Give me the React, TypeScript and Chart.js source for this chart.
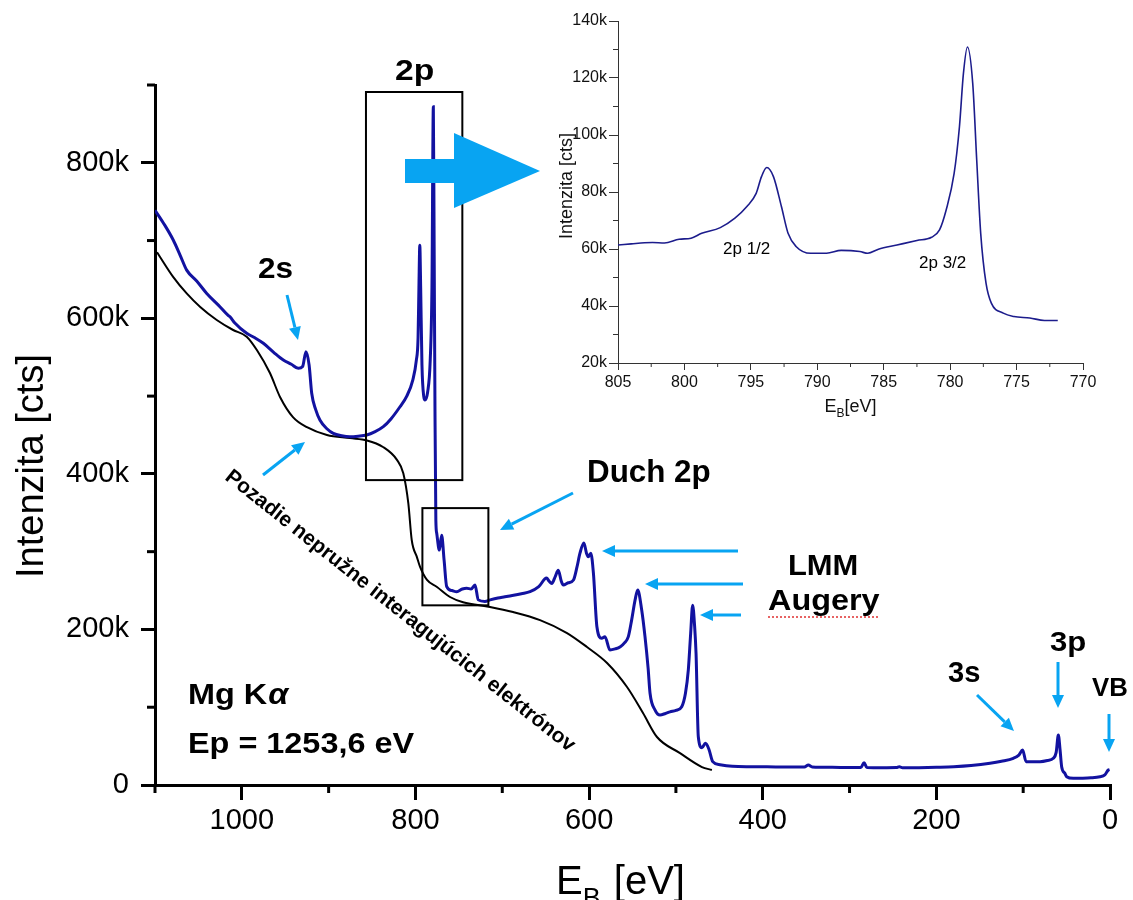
import React, { useEffect, useRef } from 'react';
import { Chart, registerables } from 'chart.js';

Chart.register(...registerables);

const FONT = 'Arial, "Liberation Sans", Helvetica, sans-serif';

// ---------- Main survey spectrum (E_B in eV, counts) ----------
const mainEnergy = [
  1100, 1090, 1079, 1071, 1063.5, 1052, 1040.4, 1027, 1016, 1013.6, 1008, 994.4, 985, 975.2, 963, 952.2,
  943, 934.9, 930, 926.1, 922.5, 919.5, 915, 909.9, 902, 894.6, 885, 875.4, 866, 856.2, 847, 837,
  828, 818, 810, 803, 799, 797, 796, 795, 794, 792.5, 790.5, 789, 786, 783, 781, 779.4,
  778.5, 777.5, 776.5, 775.5, 772.5, 769.8, 767, 764, 758, 752.5, 746, 741, 736, 731.4,
  727.6, 720, 714, 705, 697, 687, 678, 668, 658, 649, 646, 643, 639, 635.5, 632, 629.7,
  624, 618, 614, 610.5, 606, 603, 601, 598, 595, 591, 585.5, 581.7, 576, 570, 564, 559,
  554.8, 551, 547, 544, 539.4, 535.6, 532, 529.8, 524, 518.3, 512, 506.8, 500, 493.3, 489, 485.7,
  483, 480.7, 478.5, 476.8, 474.2, 470, 466, 462, 457.6, 449.2, 435, 415, 395, 372, 352,
  347.5, 343, 320, 300, 287, 283.3, 280, 262, 246, 242.7, 239, 220, 200, 180, 160, 138.2,
  125, 111.4, 105, 100.6, 96.7, 90, 80.6, 72, 65.3, 62, 59.5, 57.5, 55.7, 52, 49.9, 42.3,
  32, 22, 11.5, 6, 2, 0.5,
];
const mainCounts = [
  739000, 722000, 700700, 681000, 662000, 648000, 632000, 617000, 604000, 602000, 594000, 580700, 575000, 567900, 556000, 546400,
  541000, 535700, 538000, 557000, 540000, 503600, 483000, 469000, 458000, 452000, 449000, 447800, 448500, 450000, 454000, 460700,
  471000, 486000, 500000, 521000, 546000, 575000, 640000, 694000, 640000, 540000, 500000, 495000, 505000, 546000, 640000, 872000,
  700000, 480000, 340000, 323600, 302000, 321000, 289000, 255000, 250000, 248500, 252000, 253000, 252000, 257000,
  238000, 236000, 238000, 240500, 242000, 244000, 246000, 248500, 255000, 266000, 262000, 259000, 268000, 276000, 262000, 257000,
  260000, 263600, 280000, 298000, 311000, 298000, 293500, 298000, 272000, 203500, 188600, 190700, 173600, 175000, 177800, 183000,
  190700, 212000, 238000, 250700, 225000, 190700, 150000, 118000, 96400, 90000, 92000, 94000, 96000, 100700, 118000, 148000,
  195000, 231000, 205000, 169000, 62000, 48000, 53600, 46000, 30000, 26000, 24000, 23600, 23500, 23000, 23300,
  25700, 23300, 22800, 22500, 22500, 28700, 22500, 22200, 22400, 23600, 22100, 22300, 22800, 23500, 25000, 27900,
  30500, 34300, 38500, 45000, 30000, 30000, 30000, 31500, 34300, 42000, 64300, 45000, 23600, 15000, 10700, 8600,
  8700, 9200, 10700, 13000, 19300, 19800,
];

// ---------- Inelastic background (Shirley-like) ----------
const bgEnergy = [
  1097.7, 1078.9, 1063.5, 1047.9, 1028.9, 1010, 994.4, 982.5, 967.6, 956, 941.1, 925, 902, 875.4, 855.8, 837.4,
  821.3, 814, 808.2, 804.3, 798.3, 794.8, 786.7, 775.2, 760.2, 745.2, 714.1, 687.6, 656.5, 625.4, 602.4, 579.3,
  556.3, 537.9, 521.8, 495.3, 470, 458.6,
];
const bgCounts = [
  685000, 653000, 632000, 614600, 597900, 585000, 576400, 559000, 529700, 498900, 473000, 460000, 450000, 446000, 443000, 434600,
  418000, 400800, 362000, 315000, 293000, 280700, 263600, 254600, 241700, 235000, 228900, 222400, 212000, 195400, 177400, 156900,
  126000, 92600, 61700, 41000, 23100, 19300,
];

const mainXTicks = [0, 200, 400, 600, 800, 1000];
const mainYTicks = [0, 200000, 400000, 600000, 800000];
const mainXMinor = [100, 300, 500, 700, 900, 1100];
const mainYMinor = [100000, 300000, 500000, 700000, 900000];

// ---------- Inset: 2p detail ----------
const insetEnergy = [
  805, 804, 803, 802.4, 801.5, 800.4, 799.5, 798.7, 797.3, 796.2, 795.3, 794.6, 794.2, 793.8, 793.3, 792.7,
  792.2, 791.6, 790.5, 789.3, 788.2, 786.8, 786.2, 785.4, 784, 782.5, 781.4, 780.8, 780.3, 779.7, 779.3, 779,
  778.7, 778.3, 778, 777.7, 777.3, 776.9, 776, 775.2, 774, 772.9, 771.9,
];
const insetCounts = [
  61400, 61800, 62200, 62300, 62100, 63400, 63800, 65500, 67500, 70800, 74900, 79500, 85400, 88600, 85400, 74900,
  65500, 60900, 58500, 58500, 59500, 59100, 58500, 59900, 61400, 63000, 64100, 66700, 73700, 86500, 102900, 121600,
  130900, 118100, 91200, 65500, 48000, 41000, 37500, 36300, 35800, 34900, 34900,
];
const insetXTicks = [805, 800, 795, 790, 785, 780, 775, 770];
const insetYTicks = [20000, 40000, 60000, 80000, 100000, 120000, 140000];
const insetXMinor = [802.5, 797.5, 792.5, 787.5, 782.5, 777.5, 772.5];
const insetYMinor = [30000, 50000, 70000, 90000, 110000, 130000];

// boxes marking regions, in data coordinates [eV from, eV to, counts top, counts bottom]
const boxRegions = [
  [857, 746, 891000, 392000],
  [792, 716, 356000, 231000],
];

const LIGHT_BLUE = '#08a4f2';
const NAVY = '#1212a0';

function drawText(ctx: CanvasRenderingContext2D, s: string, x: number, y: number, size: number,
  o: { bold?: boolean; italic?: boolean; hs?: number; align?: CanvasTextAlign; color?: string } = {}) {
  ctx.save();
  ctx.translate(x, y);
  ctx.scale(o.hs ?? 1, 1);
  ctx.font = `${o.italic ? 'italic ' : ''}${o.bold ? 'bold ' : ''}${size}px ${FONT}`;
  ctx.textAlign = o.align ?? 'left';
  ctx.textBaseline = 'alphabetic';
  ctx.fillStyle = o.color ?? '#000';
  ctx.fillText(s, 0, 0);
  ctx.restore();
}

function drawArrow(ctx: CanvasRenderingContext2D, x1: number, y1: number, x2: number, y2: number) {
  const ang = Math.atan2(y2 - y1, x2 - x1);
  const hl = 13, hw = 6;
  const bx = x2 - hl * Math.cos(ang), by = y2 - hl * Math.sin(ang);
  ctx.save();
  ctx.strokeStyle = LIGHT_BLUE;
  ctx.fillStyle = LIGHT_BLUE;
  ctx.lineWidth = 3;
  ctx.beginPath();
  ctx.moveTo(x1, y1);
  ctx.lineTo(bx, by);
  ctx.stroke();
  ctx.beginPath();
  ctx.moveTo(x2, y2);
  ctx.lineTo(bx + hw * Math.sin(ang), by - hw * Math.cos(ang));
  ctx.lineTo(bx - hw * Math.sin(ang), by + hw * Math.cos(ang));
  ctx.closePath();
  ctx.fill();
  ctx.restore();
}

function minorTicks(xVals: number[], yVals: number[], xLen: number, yLen: number, width: number, color: string) {
  return {
    id: 'minorTicks',
    afterDraw(chart: any) {
      const { ctx } = chart;
      const xs = chart.scales.x, ys = chart.scales.y;
      ctx.save();
      ctx.strokeStyle = color;
      ctx.lineWidth = width;
      for (const v of xVals) {
        const px = xs.getPixelForValue(v);
        ctx.beginPath();
        ctx.moveTo(px, ys.bottom);
        ctx.lineTo(px, ys.bottom + xLen);
        ctx.stroke();
      }
      for (const v of yVals) {
        const py = ys.getPixelForValue(v);
        ctx.beginPath();
        ctx.moveTo(xs.left, py);
        ctx.lineTo(xs.left - yLen, py);
        ctx.stroke();
      }
      ctx.restore();
    },
  };
}

const mainAnnotations = {
  id: 'mainAnnotations',
  afterDraw(chart: any) {
    const { ctx } = chart;
    const xs = chart.scales.x, ys = chart.scales.y;

    // region boxes
    ctx.save();
    ctx.strokeStyle = '#000';
    ctx.lineWidth = 2;
    for (const [e1, e2, c1, c2] of boxRegions) {
      const x1 = xs.getPixelForValue(e1), x2 = xs.getPixelForValue(e2);
      const y1 = ys.getPixelForValue(c1), y2 = ys.getPixelForValue(c2);
      ctx.strokeRect(x1, y1, x2 - x1, y2 - y1);
    }
    ctx.restore();

    // big arrow toward inset
    ctx.save();
    ctx.fillStyle = LIGHT_BLUE;
    ctx.fillRect(405, 159, 50, 24);
    ctx.beginPath();
    ctx.moveTo(454, 133);
    ctx.lineTo(540, 171);
    ctx.lineTo(454, 208);
    ctx.closePath();
    ctx.fill();
    ctx.restore();

    // small arrows
    const arrows = [
      [287, 295, 298, 340],
      [263, 475, 305, 442],
      [573, 493, 500, 530],
      [738, 551, 602, 551],
      [743, 584, 645, 584],
      [741, 615, 700, 615],
      [977, 695, 1014, 731],
      [1058, 662, 1058, 708],
      [1109, 714, 1109, 752],
    ];
    for (const a of arrows) drawArrow(ctx, a[0], a[1], a[2], a[3]);

    // labels
    drawText(ctx, '2p', 395, 80, 30, { bold: true, hs: 1.12 });
    drawText(ctx, '2s', 258, 278, 30, { bold: true, hs: 1.05 });
    drawText(ctx, 'Duch 2p', 587, 482, 32, { bold: true, hs: 0.98 });
    drawText(ctx, 'LMM', 788, 575, 30, { bold: true, hs: 1.03 });
    drawText(ctx, 'Augery', 768, 610, 30, { bold: true, hs: 1.08 });
    drawText(ctx, '3s', 948, 682, 30, { bold: true, hs: 0.97 });
    drawText(ctx, '3p', 1050, 651, 27, { bold: true, hs: 1.15 });
    drawText(ctx, 'VB', 1092, 696, 25, { bold: true, hs: 1.03 });

    // spell-check style underline
    ctx.save();
    ctx.strokeStyle = '#e03030';
    ctx.lineWidth = 1.5;
    ctx.setLineDash([2, 2]);
    ctx.beginPath();
    ctx.moveTo(768, 617);
    ctx.lineTo(880, 617);
    ctx.stroke();
    ctx.restore();

    // Mg K alpha
    ctx.save();
    ctx.font = `bold 30px ${FONT}`;
    const wMg = ctx.measureText('Mg K').width * 1.08;
    ctx.restore();
    drawText(ctx, 'Mg K', 188, 704, 30, { bold: true, hs: 1.08 });
    drawText(ctx, 'α', 188 + wMg + 1, 704, 30, { bold: true, italic: true, hs: 1.08 });
    drawText(ctx, 'Ep = 1253,6 eV', 188, 753, 30, { bold: true, hs: 1.08 });

    // rotated background label
    ctx.save();
    ctx.translate(400, 611);
    ctx.rotate((38.4 * Math.PI) / 180);
    ctx.font = `bold 21px ${FONT}`;
    ctx.textAlign = 'center';
    ctx.textBaseline = 'middle';
    ctx.fillStyle = '#000';
    ctx.fillText('Pozadie nepružne interagujúcich elektrónov', 0, 0);
    ctx.restore();

    // axis titles
    ctx.save();
    ctx.translate(33, 466);
    ctx.rotate(-Math.PI / 2);
    ctx.font = `38px ${FONT}`;
    ctx.textAlign = 'center';
    ctx.textBaseline = 'middle';
    ctx.fillStyle = '#000';
    ctx.fillText('Intenzita [cts]', 0, 0);
    ctx.restore();

    ctx.save();
    ctx.fillStyle = '#000';
    ctx.font = `40px ${FONT}`;
    const wE = ctx.measureText('E').width;
    ctx.textBaseline = 'alphabetic';
    const x0 = 556;
    ctx.fillText('E', x0, 894);
    ctx.font = `27px ${FONT}`;
    const wB = ctx.measureText('B').width;
    ctx.fillText('B', x0 + wE, 907);
    ctx.font = `40px ${FONT}`;
    ctx.fillText(' [eV]', x0 + wE + wB + 2, 894);
    ctx.restore();
  },
};

const insetAnnotations = {
  id: 'insetAnnotations',
  afterDraw(chart: any) {
    const { ctx } = chart;
    const xs = chart.scales.x;
    drawText(ctx, '2p 1/2', 183, 254, 17, {});
    drawText(ctx, '2p 3/2', 379, 268, 17, {});

    ctx.save();
    ctx.translate(27, 186);
    ctx.rotate(-Math.PI / 2);
    ctx.font = `18px ${FONT}`;
    ctx.textAlign = 'center';
    ctx.textBaseline = 'middle';
    ctx.fillStyle = '#111';
    ctx.fillText('Intenzita [cts]', 0, 0);
    ctx.restore();

    ctx.save();
    ctx.fillStyle = '#111';
    ctx.font = `18px ${FONT}`;
    const wE = ctx.measureText('E').width;
    const wR = ctx.measureText('[eV]').width;
    ctx.font = `12px ${FONT}`;
    const wB = ctx.measureText('B').width;
    const x0 = (xs.left + xs.right) / 2 - (wE + wB + wR) / 2;
    ctx.font = `18px ${FONT}`;
    ctx.fillText('E', x0, 412);
    ctx.font = `12px ${FONT}`;
    ctx.fillText('B', x0 + wE, 417);
    ctx.font = `18px ${FONT}`;
    ctx.fillText('[eV]', x0 + wE + wB, 412);
    ctx.restore();
  },
};

const kFmt = (v: any) => (Number(v) === 0 ? '0' : `${Number(v) / 1000}k`);
const plainFmt = (v: any) => String(v);
const fixedTicks = (vals: number[]) => (s: any) => { s.ticks = vals.map((v) => ({ value: v })); };

export default function App() {
  const mainRef = useRef<HTMLCanvasElement>(null);
  const insetRef = useRef<HTMLCanvasElement>(null);

  useEffect(() => {
    const main = new Chart(mainRef.current as HTMLCanvasElement, {
      type: 'line',
      data: {
        datasets: [
          {
            data: mainEnergy.map((e, i) => ({ x: e, y: mainCounts[i] })),
            borderColor: NAVY,
            borderWidth: 3,
            pointRadius: 0,
            cubicInterpolationMode: 'monotone',
            fill: false,
          },
          {
            data: bgEnergy.map((e, i) => ({ x: e, y: bgCounts[i] })),
            borderColor: '#000',
            borderWidth: 2,
            pointRadius: 0,
            cubicInterpolationMode: 'monotone',
            fill: false,
          },
        ],
      },
      options: {
        animation: false,
        responsive: false,
        maintainAspectRatio: false,
        layout: { padding: { top: 85, right: 23, left: 0, bottom: 0 } },
        plugins: { legend: { display: false }, tooltip: { enabled: false } },
        scales: {
          x: {
            type: 'linear',
            reverse: true,
            min: 0,
            max: 1100,
            afterBuildTicks: fixedTicks(mainXTicks),
            ticks: {
              autoSkip: false,
              maxRotation: 0,
              padding: 4,
              color: '#000',
              font: { family: FONT, size: 29 },
              callback: plainFmt,
            },
            grid: { drawOnChartArea: false, drawTicks: true, tickLength: 15, lineWidth: 3, color: '#000' },
            border: { display: true, width: 3, color: '#000' },
            afterFit: (s: any) => { s.height = 115; },
          },
          y: {
            type: 'linear',
            min: 0,
            max: 900000,
            afterBuildTicks: fixedTicks(mainYTicks),
            ticks: {
              autoSkip: false,
              padding: 12,
              color: '#000',
              font: { family: FONT, size: 29 },
              callback: kFmt,
            },
            grid: { drawOnChartArea: false, drawTicks: true, tickLength: 14, lineWidth: 3, color: '#000' },
            border: { display: true, width: 3, color: '#000' },
            afterFit: (s: any) => { s.width = 155; },
          },
        },
      },
      plugins: [minorTicks(mainXMinor, mainYMinor, 8, 8, 3, '#000'), mainAnnotations],
    } as any);

    const inset = new Chart(insetRef.current as HTMLCanvasElement, {
      type: 'line',
      data: {
        datasets: [
          {
            data: insetEnergy.map((e, i) => ({ x: e, y: insetCounts[i] })),
            borderColor: '#1c1c8c',
            borderWidth: 1.6,
            pointRadius: 0,
            cubicInterpolationMode: 'monotone',
            fill: false,
          },
        ],
      },
      options: {
        animation: false,
        responsive: false,
        maintainAspectRatio: false,
        layout: { padding: { top: 21, right: 50, left: 0, bottom: 0 } },
        plugins: { legend: { display: false }, tooltip: { enabled: false } },
        scales: {
          x: {
            type: 'linear',
            reverse: true,
            min: 770,
            max: 805,
            afterBuildTicks: fixedTicks(insetXTicks),
            ticks: {
              autoSkip: false,
              maxRotation: 0,
              padding: 3,
              color: '#111',
              font: { family: FONT, size: 16 },
              callback: plainFmt,
            },
            grid: { drawOnChartArea: false, drawTicks: true, tickLength: 7, lineWidth: 1, color: '#333' },
            border: { display: true, width: 1, color: '#333' },
            afterFit: (s: any) => { s.height = 67; },
          },
          y: {
            type: 'linear',
            min: 20000,
            max: 140000,
            afterBuildTicks: fixedTicks(insetYTicks),
            ticks: {
              autoSkip: false,
              padding: 2,
              color: '#111',
              font: { family: FONT, size: 16 },
              callback: kFmt,
            },
            grid: { drawOnChartArea: false, drawTicks: true, tickLength: 9, lineWidth: 1, color: '#333' },
            border: { display: true, width: 1, color: '#333' },
            afterFit: (s: any) => { s.width = 78; },
          },
        },
      },
      plugins: [minorTicks(insetXMinor, insetYMinor, 4, 5, 1, '#333'), insetAnnotations],
    } as any);

    return () => {
      main.destroy();
      inset.destroy();
    };
  }, []);

  return (
    <div style={{ position: 'absolute', left: 0, top: 0, width: 1133, height: 900, background: '#fff', overflow: 'hidden' }}>
      <canvas ref={mainRef} width={1133} height={900} style={{ position: 'absolute', left: 0, top: 0 }} />
      <canvas ref={insetRef} width={593} height={430} style={{ position: 'absolute', left: 540, top: 0 }} />
    </div>
  );
}
